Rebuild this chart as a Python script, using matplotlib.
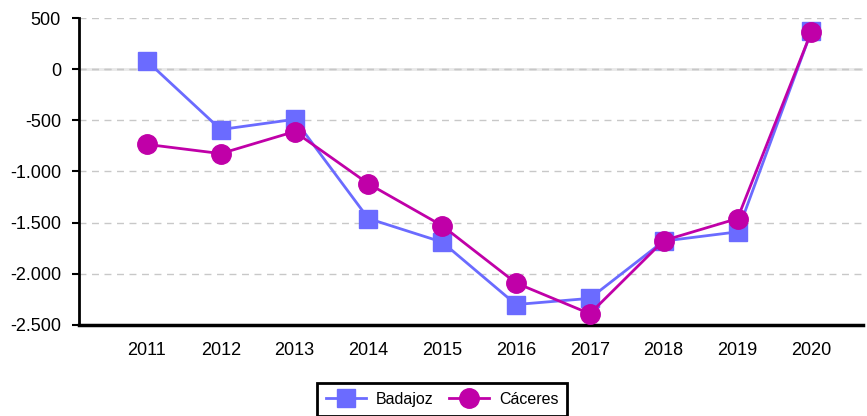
import matplotlib.pyplot as plt
from matplotlib.ticker import FuncFormatter

plt.rcParams['font.family'] = ['Liberation Sans', 'DejaVu Sans']

years = [2011, 2012, 2013, 2014, 2015, 2016, 2017, 2018, 2019, 2020]
badajoz = [80, -590, -490, -1460, -1690, -2300, -2240, -1680, -1590, 370]
caceres = [-735, -825, -610, -1120, -1530, -2090, -2390, -1675, -1460, 365]
y_ticks = [500, 0, -500, -1000, -1500, -2000, -2500]

fig = plt.figure(figsize=(8.67, 4.16), dpi=100)
ax = fig.add_axes([0.0911, 0.2188, 0.9043, 0.7379])

ax.plot(years, badajoz, color='#6b6bff', linewidth=2, marker='s', markersize=13,
        label='Badajoz', zorder=3)
ax.plot(years, caceres, color='#c000a8', linewidth=2, marker='o', markersize=14,
        label='Cáceres', zorder=4)

ax.set_ylim(-2500, 500)
ax.set_xlim(2011 - 0.92, 2020 + 0.7)
ax.set_yticks(y_ticks)
ax.set_xticks(years)
ax.yaxis.set_major_formatter(FuncFormatter(lambda v, p: f"{int(v):,}".replace(',', '.')))

ax.grid(axis='y', color='#c8c8c8', linestyle=(0, (5, 4)), linewidth=1, zorder=0)
ax.axhline(0, color='#e8e8e8', linewidth=2, zorder=0.5)
ax.axhline(0, color='#c8c8c8', linestyle=(0, (5, 4)), linewidth=1, zorder=0.6)

for side in ['top', 'right']:
    ax.spines[side].set_visible(False)
ax.spines['left'].set_linewidth(2)
ax.spines['bottom'].set_linewidth(2.5)
ax.tick_params(axis='y', length=5, width=1.5, labelsize=13, pad=8)
ax.tick_params(axis='x', length=0, labelsize=13, pad=12)

leg = fig.legend(loc='upper center', bbox_to_anchor=(0.51, 0.0793), ncol=2,
                 frameon=True, fancybox=False, fontsize=11.5, handlelength=2.5,
                 handletextpad=0.65, borderpad=0.55, columnspacing=0.95,
                 borderaxespad=0, edgecolor='black', framealpha=1)
leg.get_frame().set_linewidth(2)

fig.savefig('out.png', dpi=100)
